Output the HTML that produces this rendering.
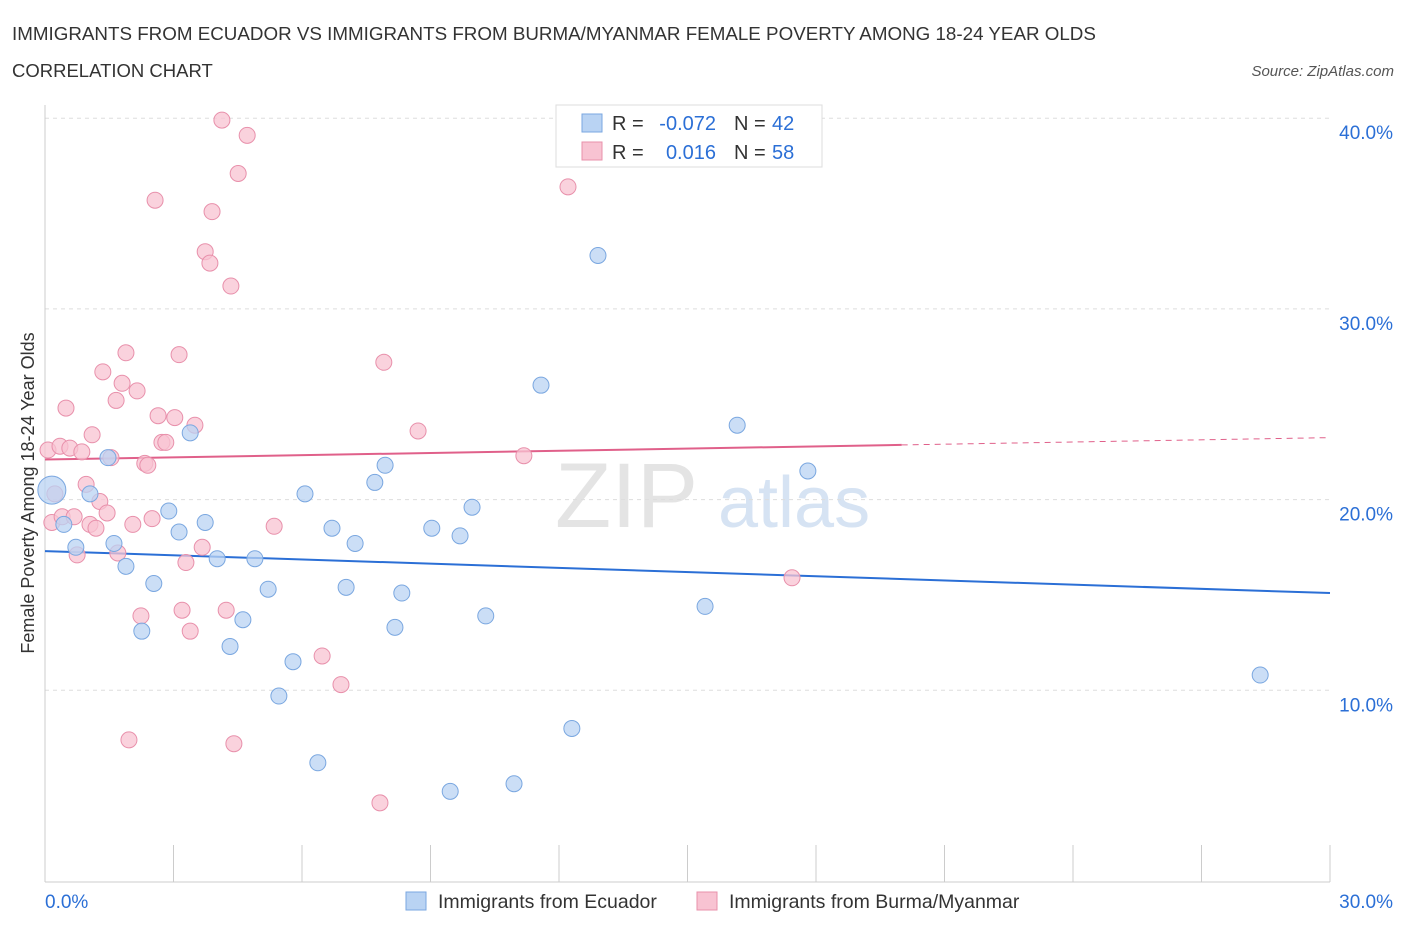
<!DOCTYPE html>
<html><head><meta charset="utf-8"><style>
body{margin:0;background:#fff;font-family:"Liberation Sans",sans-serif;}
svg text{font-family:"Liberation Sans",sans-serif;}
</style></head><body>
<svg id="chart" width="1406" height="930" xmlns="http://www.w3.org/2000/svg">
<text x="12" y="40" font-size="18.8" fill="#333">IMMIGRANTS FROM ECUADOR VS IMMIGRANTS FROM BURMA/MYANMAR FEMALE POVERTY AMONG 18-24 YEAR OLDS</text>
<text x="12" y="77" font-size="18.5" fill="#333">CORRELATION CHART</text>
<text x="1394" y="76" font-size="15" fill="#555" font-style="italic" text-anchor="end">Source: ZipAtlas.com</text>
<text x="555" y="527" font-size="92" fill="#e4e4e4" font-family="Liberation Serif">ZIP</text>
<text x="718" y="527" font-size="72" fill="#d6e3f3">atlas</text>
<text transform="translate(34,493) rotate(-90)" font-size="18" fill="#333" text-anchor="middle">Female Poverty Among 18-24 Year Olds</text>
<g id="grid"></g><g id="axes"></g><g id="lines"></g><g id="pts"></g>
<g>
<rect x="556" y="105" width="266" height="62" fill="#fff" stroke="#ddd"/>
<rect x="582" y="114" width="20" height="18" fill="#b9d3f3" stroke="#7aa7e0"/>
<rect x="582" y="142" width="20" height="18" fill="#f8c3d2" stroke="#e890ab"/>
<text x="612" y="130" font-size="20" fill="#333">R =</text>
<text x="716" y="130" font-size="20" fill="#2b6fd6" text-anchor="end">-0.072</text>
<text x="734" y="130" font-size="20" fill="#333">N =</text>
<text x="772" y="130" font-size="20" fill="#2b6fd6">42</text>
<text x="612" y="159" font-size="20" fill="#333">R =</text>
<text x="716" y="159" font-size="20" fill="#2b6fd6" text-anchor="end">0.016</text>
<text x="734" y="159" font-size="20" fill="#333">N =</text>
<text x="772" y="159" font-size="20" fill="#2b6fd6">58</text>
</g>
<g>
<rect x="406" y="892" width="20" height="18" fill="#b9d3f3" stroke="#7aa7e0"/>
<text x="438" y="908" font-size="19.5" fill="#333">Immigrants from Ecuador</text>
<rect x="697" y="892" width="20" height="18" fill="#f8c3d2" stroke="#e890ab"/>
<text x="729" y="908" font-size="19.5" fill="#333">Immigrants from Burma/Myanmar</text>
</g>
</svg>
<script>
const blueX=[0.16,0.44,0.72,1.05,1.47,1.61,1.89,2.26,2.54,2.89,3.13,3.39,3.74,4.02,4.32,4.62,4.90,5.21,5.46,5.79,6.07,6.37,6.70,7.03,7.24,7.70,7.94,8.17,8.33,9.03,9.46,9.69,9.97,10.29,10.95,11.58,12.30,12.91,15.41,16.16,17.81,28.37];
const blueY=[20.5,18.7,17.5,20.3,22.2,17.7,16.5,13.1,15.6,19.4,18.3,23.5,18.8,16.9,12.3,13.7,16.9,15.3,9.7,11.5,20.3,6.2,18.5,15.4,17.7,20.9,21.8,13.3,15.1,18.5,4.7,18.1,19.6,13.9,5.1,26.0,8.0,32.8,14.4,23.9,21.5,10.8];
const pinkX=[0.07,0.16,0.23,0.35,0.40,0.49,0.58,0.68,0.75,0.86,0.96,1.05,1.10,1.19,1.28,1.35,1.45,1.54,1.66,1.70,1.80,1.89,1.96,2.05,2.15,2.24,2.33,2.40,2.50,2.57,2.64,2.73,2.82,3.03,3.13,3.20,3.29,3.39,3.50,3.67,3.74,3.85,3.90,4.13,4.23,4.34,4.41,4.51,4.72,5.35,6.47,6.91,7.82,7.91,8.71,11.18,12.21,17.44];
const pinkY=[22.6,18.8,20.3,22.8,19.1,24.8,22.7,19.1,17.1,22.5,20.8,18.7,23.4,18.5,19.9,26.7,19.3,22.2,25.2,17.2,26.1,27.7,7.4,18.7,25.7,13.9,21.9,21.8,19.0,35.7,24.4,23.0,23.0,24.3,27.6,14.2,16.7,13.1,23.9,17.5,33.0,32.4,35.1,39.9,14.2,31.2,7.2,37.1,39.1,18.6,11.8,10.3,4.1,27.2,23.6,22.3,36.4,15.9];
const blueTrend=[17.3,15.1];
const pinkTrend=[22.1,23.25];
const yTicks=[10,20,30,40];
const xTickLabels=["0.0%","30.0%"];
const NS="http://www.w3.org/2000/svg";
const X0=45,X1=1330,Y0=881,PPY=19.07;
const sx=v=>X0+(v/30)*(X1-X0);
const sy=v=>Y0-v*PPY;
function mk(tag,attrs,parent){const e=document.createElementNS(NS,tag);for(const k in attrs)e.setAttribute(k,attrs[k]);document.getElementById(parent).appendChild(e);return e;}
yTicks.forEach(t=>{
 const l=mk('line',{x1:X0,x2:X1,y1:sy(t),y2:sy(t),stroke:'#ddd','stroke-dasharray':'4,4'},'grid');
 
 
 const tx=mk('text',{x:1393,y:sy(t)+21,'font-size':19,fill:'#2b6fd6','text-anchor':'end'},'grid');
 tx.textContent=t.toFixed(1)+'%';
 
 
});
let a=mk('line',{x1:X0,x2:X0,y1:105,y2:882,stroke:'#ccc'},'axes');


a=mk('line',{x1:X0,x2:X1,y1:882,y2:882,stroke:'#ccc'},'axes');


for(let i=0;i<=10;i++){const t=mk('line',{x1:sx(i*3),x2:sx(i*3),y1:845,y2:882,stroke:'#ccc'},'axes');
 
 }
[[0,'start',45],[30,'end',1393]].forEach((d,i)=>{const t=mk('text',{x:d[2],y:908,'font-size':19,fill:'#2b6fd6','text-anchor':d[1]},'axes');t.textContent=xTickLabels[i];
 
 });
function pts(xs,ys,fill,stroke,name){xs.forEach((x,i)=>{const c=mk('circle',{cx:sx(x),cy:sy(ys[i]),r:i===0&&name==='ecuador-point'?14:8,fill:fill,'fill-opacity':0.75,stroke:stroke,'stroke-width':1},'pts');
 
 });}
pts(pinkX,pinkY,'#f8c3d2','#e890ab','burma-point');
pts(blueX,blueY,'#b9d3f3','#7aa7e0','ecuador-point');
let tl=mk('line',{x1:sx(0),x2:sx(30),y1:sy(blueTrend[0]),y2:sy(blueTrend[1]),stroke:'#2b6fd6','stroke-width':2},'lines');


const pm=pinkTrend[0]+(pinkTrend[1]-pinkTrend[0])*(20/30);
tl=mk('line',{x1:sx(0),x2:sx(20),y1:sy(pinkTrend[0]),y2:sy(pm),stroke:'#e0608a','stroke-width':2},'lines');


tl=mk('line',{x1:sx(20),x2:sx(30),y1:sy(pm),y2:sy(pinkTrend[1]),stroke:'#e0608a','stroke-width':1,'stroke-dasharray':'6,5'},'lines');


</script>
</body></html>
